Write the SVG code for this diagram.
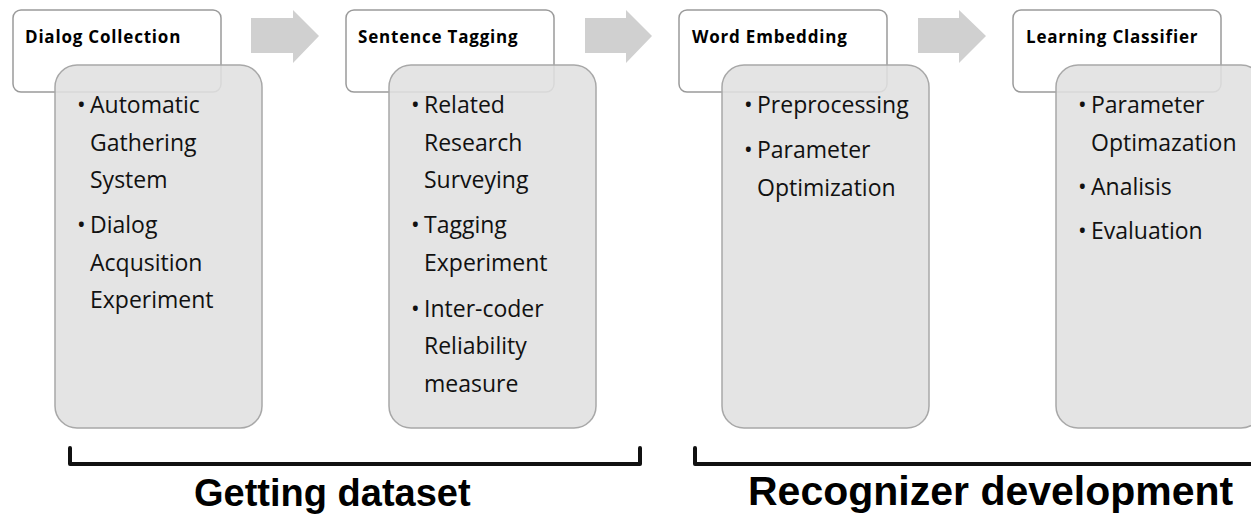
<svg xmlns="http://www.w3.org/2000/svg" width="1251" height="516" viewBox="0 0 1251 516">
<style>
.hdr{fill:#fff;stroke:#9a9a9a;stroke-width:1.5}
.body{fill:#e0e0e0;fill-opacity:0.88;stroke:#a8a8a8;stroke-width:1.5}
.arrow{fill:#d0d0d0}
.ttl{font-family:"Open Sans","Noto Sans",sans-serif;font-weight:bold;font-size:17px;letter-spacing:0.8px;fill:#000}
.txt{font-family:"Open Sans","Noto Sans",sans-serif;font-size:23px;fill:#111}
.big{font-family:"Liberation Sans",Arial,sans-serif;font-weight:bold;fill:#000}
.br{fill:none;stroke:#111;stroke-width:4;stroke-linejoin:round;stroke-linecap:round}
</style>
<g id="connectors">
<polygon class="arrow" points="251,18 293,18 293,10 319,36 293,63 293,53 251,53"/>
<polygon class="arrow" points="585,18 626,18 626,10 652,36 626,63 626,53 585,53"/>
<polygon class="arrow" points="918,18 959,18 959,10 986,36 959,63 959,53 918,53"/>
</g>
<g id="node-dialog-collection">
<rect class="hdr" x="13" y="10" width="208" height="82" rx="8"/>
<text class="ttl" x="25" y="43">Dialog Collection</text>
<rect class="body" x="55" y="65" width="207" height="363" rx="22"/>
<text class="txt"><tspan x="77" y="113">•</tspan><tspan x="90" y="113">Automatic</tspan><tspan x="90" y="151">Gathering</tspan><tspan x="90" y="188">System</tspan><tspan x="77" y="233">•</tspan><tspan x="90" y="233">Dialog</tspan><tspan x="90" y="271">Acqusition</tspan><tspan x="90" y="308">Experiment</tspan></text>
</g>
<g id="node-sentence-tagging">
<rect class="hdr" x="346" y="10" width="208" height="82" rx="8"/>
<text class="ttl" x="358" y="43">Sentence Tagging</text>
<rect class="body" x="389" y="65" width="207" height="363" rx="22"/>
<text class="txt"><tspan x="411" y="113">•</tspan><tspan x="424" y="113">Related</tspan><tspan x="424" y="151">Research</tspan><tspan x="424" y="188">Surveying</tspan><tspan x="411" y="233">•</tspan><tspan x="424" y="233">Tagging</tspan><tspan x="424" y="271">Experiment</tspan><tspan x="411" y="317">•</tspan><tspan x="424" y="317">Inter-coder</tspan><tspan x="424" y="354">Reliability</tspan><tspan x="424" y="392">measure</tspan></text>
</g>
<g id="node-word-embedding">
<rect class="hdr" x="679" y="10" width="208" height="82" rx="8"/>
<text class="ttl" x="692" y="43">Word Embedding</text>
<rect class="body" x="722" y="65" width="207" height="363" rx="22"/>
<text class="txt"><tspan x="744" y="113">•</tspan><tspan x="757" y="113">Preprocessing</tspan><tspan x="744" y="158">•</tspan><tspan x="757" y="158">Parameter</tspan><tspan x="757" y="196">Optimization</tspan></text>
</g>
<g id="node-learning-classifier">
<rect class="hdr" x="1013" y="10" width="208" height="82" rx="8"/>
<text class="ttl" x="1026" y="43">Learning Classifier</text>
<rect class="body" x="1056" y="65" width="207" height="363" rx="22"/>
<text class="txt"><tspan x="1078" y="113">•</tspan><tspan x="1091" y="113">Parameter</tspan><tspan x="1091" y="151">Optimazation</tspan><tspan x="1078" y="195">•</tspan><tspan x="1091" y="195">Analisis</tspan><tspan x="1078" y="239">•</tspan><tspan x="1091" y="239">Evaluation</tspan></text>
</g>
<g id="group-getting-dataset">
<path class="br" d="M70,448 V464 H640 V448"/>
<text class="big" x="194" y="506" font-size="38">Getting dataset</text>
</g>
<g id="group-recognizer-development">
<path class="br" d="M695,448 V464 H1255"/>
<text class="big" x="748" y="505" font-size="41">Recognizer development</text>
</g>
</svg>
